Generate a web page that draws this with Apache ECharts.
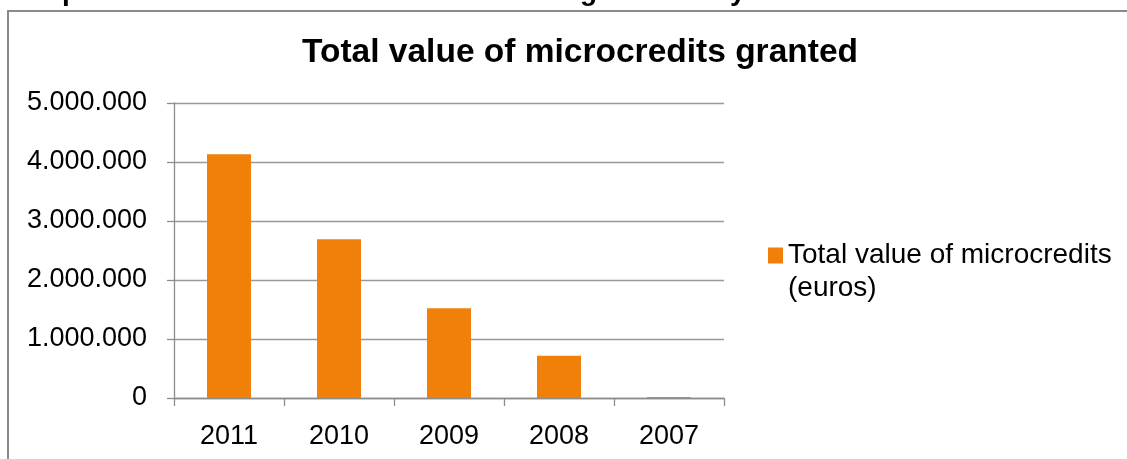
<!DOCTYPE html>
<html>
<head>
<meta charset="utf-8">
<script src="https://cdn.jsdelivr.net/npm/echarts@6/dist/echarts.min.js"></script>
<style>
html,body{margin:0;padding:0;background:#fff;}
#chart{width:1127px;height:459px;}
</style>
</head>
<body>
<div id="chart"></div>
<script>
const categories = ['2011', '2010', '2009', '2008', '2007'];
const values = [4130000, 2690000, 1520000, 717000, 15000];
const seriesName = 'Total value of microcredits\n(euros)';
const titleText = 'Total value of microcredits granted';

const FONT = 'Liberation Sans, Arial, sans-serif';
function fmt(v) {
  return String(v).replace(/\B(?=(\d{3})+(?!\d))/g, '.');
}

const chart = echarts.init(document.getElementById('chart'));
chart.setOption({
  animation: false,
  backgroundColor: '#ffffff',
  title: {
    text: titleText,
    left: 575,
    textAlign: 'center',
    top: 31,
    textStyle: { fontFamily: FONT, fontWeight: 'bold', fontSize: 33.5, color: '#000' }
  },
  grid: { left: 174, right: 403, top: 103, bottom: 61 },
  legend: {
    left: 768,
    top: 206,
    padding: 0,
    itemWidth: 15,
    itemHeight: 16,
    itemGap: 5,
    icon: 'rect',
    formatter: function (name) { return '\n' + name; },
    textStyle: { fontFamily: FONT, fontSize: 28, color: '#000', lineHeight: 33 },
    data: [seriesName]
  },
  xAxis: {
    type: 'category',
    data: categories,
    axisLine: { lineStyle: { color: '#8c8c8c', width: 1.3 } },
    axisTick: { show: true, length: 8, lineStyle: { color: '#8c8c8c', width: 1.3 } },
    axisLabel: { fontFamily: FONT, fontSize: 27, color: '#000', margin: 25 }
  },
  yAxis: {
    type: 'value',
    min: 0,
    max: 5000000,
    interval: 1000000,
    axisLine: { show: true, lineStyle: { color: '#8c8c8c', width: 1.3 } },
    axisTick: { show: true, length: 7, lineStyle: { color: '#8c8c8c', width: 1.3 } },
    axisLabel: { fontFamily: FONT, fontSize: 27, color: '#000', margin: 27, formatter: fmt },
    splitLine: { show: true, lineStyle: { color: '#999999', width: 1.3 } }
  },
  series: [{
    name: seriesName,
    type: 'bar',
    data: values,
    barWidth: '40%',
    itemStyle: { color: '#F0800A' }
  }],
  graphic: [
    {
      type: 'polyline',
      shape: { points: [[8, 459], [8, 11], [1127, 11]] },
      style: { stroke: '#8a8a8a', lineWidth: 2, fill: null }
    },
    { type: 'text', left: 62, top: -22, style: { text: 'p', font: 'bold 28px ' + FONT, fill: '#000' } },
    { type: 'text', left: 580, top: -22, style: { text: 'g', font: 'bold 28px ' + FONT, fill: '#000' } },
    { type: 'text', left: 730, top: -22, style: { text: 'y', font: 'bold 28px ' + FONT, fill: '#000' } }
  ]
});
</script>
</body>
</html>
